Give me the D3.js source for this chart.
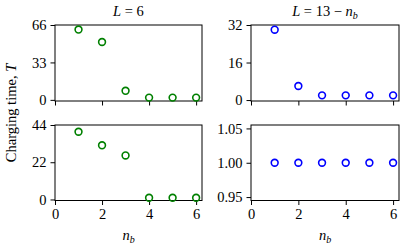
<!DOCTYPE html>
<html>
<head>
<meta charset="utf-8">
<script src="https://cdn.jsdelivr.net/npm/d3@7"></script>
<style>
  body { margin: 0; background: #fff; }
  svg { display: block; }
  text { font-family: "Liberation Serif", "DejaVu Serif", serif; fill: #000; }
</style>
</head>
<body>
<div id="chart"></div>
<script>
// n_b values shared by all panels
const nb = [1, 2, 3, 4, 5, 6];
// charging time T
const topLeftT = [62, 51, 8, 2, 2, 2];
const topRightT = [30, 6, 2, 2, 2, 2];
const bottomLeftT = [40, 32, 26, 1, 1, 1];
const bottomRightT = [1, 1, 1, 1, 1, 1];
const xTicks = [0, 2, 4, 6];
const topLeftTicks = [0, 33, 66];
const topRightTicks = [0, 16, 32];
const bottomLeftTicks = [0, 22, 44];
const bottomRightTicks = [0.95, 1.00, 1.05];

const width = 403, height = 251;
const svg = d3.select("#chart").append("svg")
  .attr("width", width).attr("height", height);

const fontSize = 14.5;
const tickLen = 4.5;

//Panel boxes in pixels
const cols = [{x0: 55, x1: 202}, {x0: 251, x1: 399}];
const rows = [{y0: 25, y1: 101}, {y0: 125, y1: 200.5}];

const panels = [
  {col: 0, row: 0, data: topLeftT, dom: [-1, 66], ticks: topLeftTicks, fmt: d3.format("d"), color: "#008000"},
  {col: 1, row: 0, data: topRightT, dom: [-0.4, 32], ticks: topRightTicks, fmt: d3.format("d"), color: "#0000ff"},
  {col: 0, row: 1, data: bottomLeftT, dom: [-0.6, 44], ticks: bottomLeftTicks, fmt: d3.format("d"), color: "#008000"},
  {col: 1, row: 1, data: bottomRightT, dom: [0.945, 1.055], ticks: bottomRightTicks, fmt: d3.format(".2f"), color: "#0000ff"}
];

panels.forEach(p => {
  const c = cols[p.col], r = rows[p.row];
  const x = d3.scaleLinear().domain([0, 6.25]).range([c.x0, c.x1]);
  const y = d3.scaleLinear().domain(p.dom).range([r.y1, r.y0]);

  const g = svg.append("g");

  //x axis (labels only on bottom row)
  const xAxis = d3.axisBottom(x).tickValues(xTicks).tickSize(tickLen).tickPadding(4)
    .tickFormat(p.row === 1 ? d3.format("d") : "");
  g.append("g").attr("transform", "translate(0," + r.y1 + ")").call(xAxis);

  const yAxis = d3.axisLeft(y).tickValues(p.ticks).tickSize(tickLen).tickPadding(4)
    .tickFormat(p.fmt);
  g.append("g").attr("transform", "translate(" + c.x0 + ",0)").call(yAxis);

  g.selectAll(".domain").remove();
  g.selectAll(".tick line").attr("stroke", "#000").attr("stroke-width", 1);
  g.selectAll(".tick text").style("font-size", fontSize + "px")
    .style("font-family", "'Liberation Serif', serif").attr("fill", "#000");

  g.append("rect")
    .attr("x", c.x0).attr("y", r.y0)
    .attr("width", c.x1 - c.x0).attr("height", r.y1 - r.y0)
    .attr("fill", "none").attr("stroke", "#000").attr("stroke-width", 1);

  g.selectAll("circle.pt")
    .data(p.data)
    .enter().append("circle")
    .attr("class", "pt")
    .attr("cx", (d, i) => x(nb[i]))
    .attr("cy", d => y(d))
    .attr("r", 3.4)
    .attr("fill", "none")
    .attr("stroke", p.color)
    .attr("stroke-width", 1.6);
});

//Titles
const t1 = svg.append("text").attr("x", (cols[0].x0 + cols[0].x1) / 2).attr("y", 16)
  .attr("text-anchor", "middle").style("font-size", fontSize + "px");
t1.append("tspan").style("font-style", "italic").text("L");
t1.append("tspan").text(" = 6");

const t2 = svg.append("text").attr("x", (cols[1].x0 + cols[1].x1) / 2).attr("y", 16)
  .attr("text-anchor", "middle").style("font-size", fontSize + "px");
t2.append("tspan").style("font-style", "italic").text("L");
t2.append("tspan").text(" = 13 \u2212 ");
t2.append("tspan").style("font-style", "italic").text("n");
t2.append("tspan").style("font-style", "italic").style("font-size", "10px").attr("dy", 3).text("b");

//x labels
cols.forEach(c => {
  const t = svg.append("text").attr("x", (c.x0 + c.x1) / 2).attr("y", 240)
    .attr("text-anchor", "middle").style("font-size", fontSize + "px");
  t.append("tspan").style("font-style", "italic").text("n");
  t.append("tspan").style("font-style", "italic").style("font-size", "10px").attr("dy", 3).text("b");
});

//y label
const yl = svg.append("text")
  .attr("transform", "translate(16,113) rotate(-90)")
  .attr("text-anchor", "middle").style("font-size", fontSize + "px");
yl.append("tspan").text("Charging time, ");
yl.append("tspan").style("font-style", "italic").text("T");
</script>
</body>
</html>
